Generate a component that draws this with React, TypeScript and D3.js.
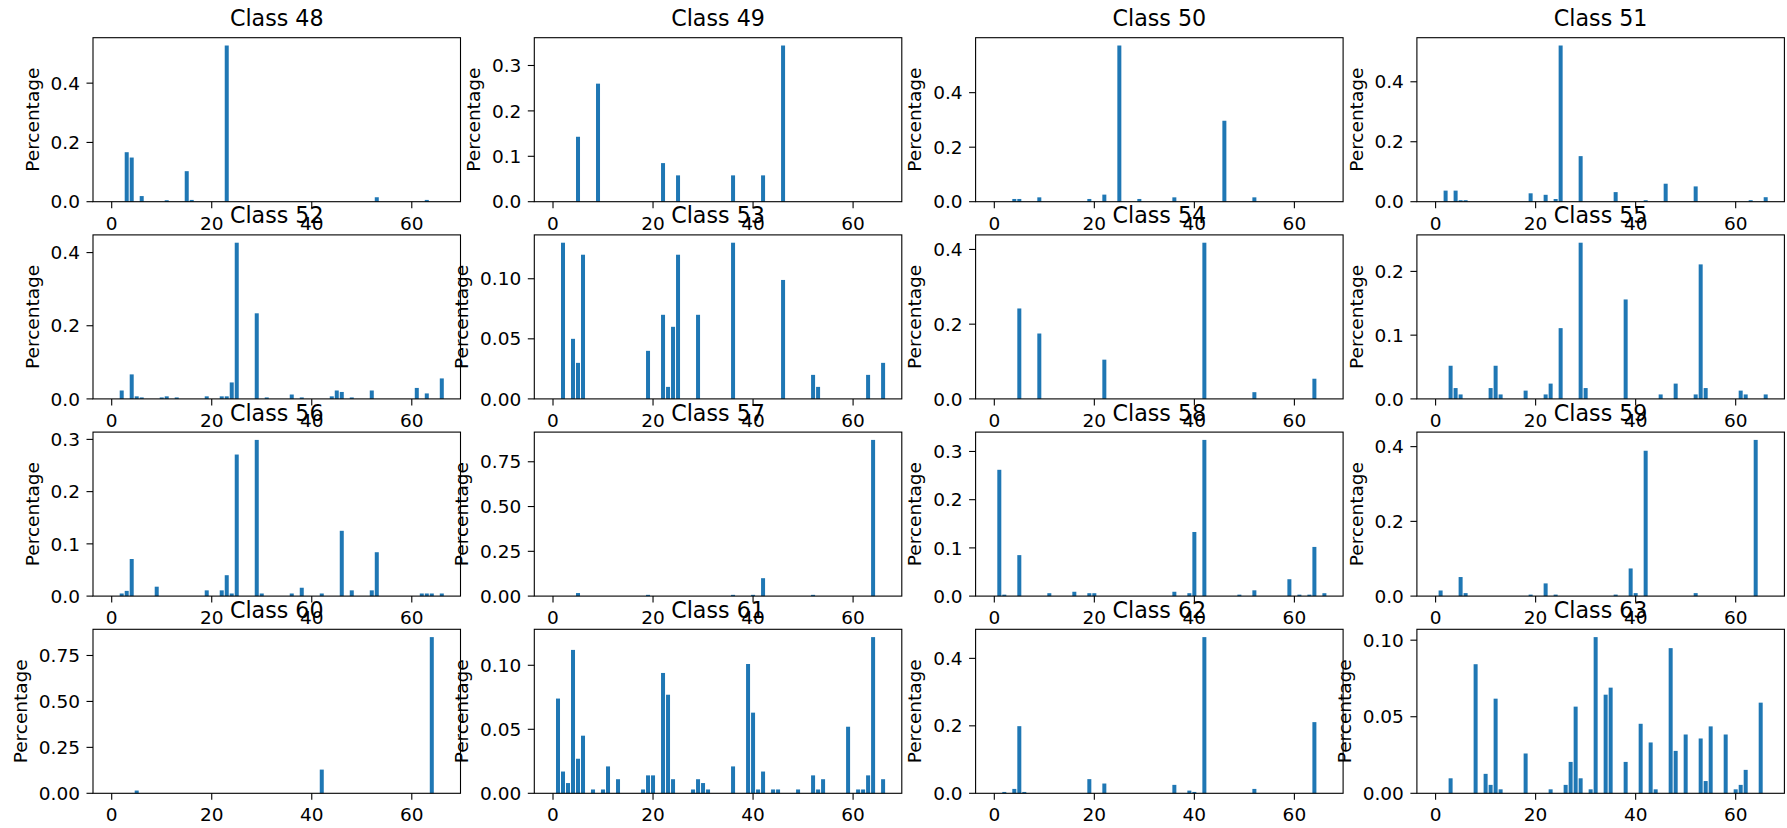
import React from "react";
import * as d3 from "d3";

const classNames = ["Class 48","Class 49","Class 50","Class 51","Class 52","Class 53","Class 54","Class 55","Class 56","Class 57","Class 58","Class 59","Class 60","Class 61","Class 62","Class 63"];

const class48 = [[3,0.167],[4,0.149],[6,0.019],[11,0.005],[15,0.103],[16,0.006],[23,0.527],[53,0.015],[63,0.006]];
const class49 = [[5,0.143],[9,0.26],[22,0.085],[25,0.058],[36,0.058],[42,0.058],[46,0.344]];
const class50 = [[4,0.01],[5,0.01],[9,0.016],[19,0.01],[22,0.026],[25,0.573],[29,0.01],[36,0.016],[46,0.297],[52,0.016]];
const class51 = [[2,0.037],[4,0.037],[5,0.005],[6,0.005],[19,0.028],[22,0.023],[24,0.009],[25,0.521],[29,0.152],[36,0.032],[42,0.005],[46,0.06],[52,0.051],[63,0.005],[66,0.015]];
const class52 = [[2,0.023],[4,0.067],[5,0.007],[6,0.004],[10,0.004],[11,0.007],[13,0.004],[19,0.007],[22,0.007],[23,0.007],[24,0.045],[25,0.427],[29,0.234],[31,0.004],[36,0.012],[38,0.004],[44,0.007],[45,0.023],[46,0.019],[48,0.004],[52,0.023],[61,0.03],[63,0.015],[66,0.056]];
const class53 = [[2,0.13],[4,0.05],[5,0.03],[6,0.12],[19,0.04],[22,0.07],[23,0.01],[24,0.06],[25,0.12],[29,0.07],[36,0.13],[46,0.099],[52,0.02],[53,0.01],[63,0.02],[66,0.03]];
const class54 = [[5,0.242],[9,0.175],[22,0.105],[42,0.418],[52,0.018],[64,0.054]];
const class55 = [[3,0.052],[4,0.017],[5,0.007],[11,0.017],[12,0.052],[13,0.007],[18,0.013],[22,0.007],[23,0.024],[25,0.111],[29,0.245],[30,0.017],[38,0.156],[45,0.007],[48,0.024],[52,0.007],[53,0.211],[54,0.017],[61,0.013],[62,0.007],[66,0.007]];
const class56 = [[2,0.005],[3,0.01],[4,0.071],[9,0.018],[19,0.011],[22,0.011],[23,0.04],[24,0.005],[25,0.271],[29,0.299],[30,0.005],[36,0.005],[38,0.016],[42,0.005],[46,0.125],[48,0.011],[52,0.011],[53,0.084],[62,0.005],[63,0.005],[64,0.005],[66,0.005]];
const class57 = [[5,0.017],[19,0.007],[36,0.007],[40,0.007],[42,0.1],[52,0.007],[64,0.872]];
const class58 = [[1,0.262],[2,0.003],[5,0.085],[11,0.006],[16,0.009],[19,0.006],[20,0.006],[36,0.009],[39,0.006],[40,0.133],[42,0.324],[49,0.003],[52,0.012],[59,0.035],[61,0.003],[63,0.003],[64,0.102],[66,0.006]];
const class59 = [[1,0.015],[5,0.051],[6,0.008],[19,0.004],[22,0.034],[24,0.004],[36,0.004],[39,0.074],[40,0.008],[42,0.389],[52,0.008],[64,0.418]];
const class60 = [[5,0.015],[42,0.129],[64,0.85]];
const class61 = [[1,0.074],[2,0.017],[3,0.008],[4,0.112],[5,0.027],[6,0.045],[8,0.003],[10,0.003],[11,0.021],[13,0.011],[18,0.003],[19,0.014],[20,0.014],[22,0.094],[23,0.077],[24,0.011],[28,0.003],[29,0.011],[30,0.008],[31,0.003],[36,0.021],[39,0.101],[40,0.063],[41,0.003],[42,0.017],[44,0.003],[45,0.003],[49,0.003],[52,0.014],[53,0.003],[54,0.011],[59,0.052],[61,0.003],[62,0.003],[63,0.014],[64,0.122],[66,0.011]];
const class62 = [[2,0.004],[4,0.013],[5,0.199],[6,0.004],[19,0.042],[22,0.029],[36,0.025],[39,0.008],[40,0.004],[42,0.463],[52,0.013],[64,0.211]];
const class63 = [[3,0.0098],[8,0.0843],[10,0.0127],[11,0.0055],[12,0.0618],[13,0.0026],[18,0.026],[23,0.0026],[26,0.0055],[27,0.0205],[28,0.0566],[29,0.0098],[31,0.0026],[32,0.102],[34,0.0644],[35,0.069],[38,0.0205],[41,0.0454],[43,0.0332],[44,0.0026],[47,0.0948],[48,0.0277],[50,0.0384],[53,0.0358],[54,0.008],[55,0.0437],[58,0.0384],[60,0.0026],[61,0.0055],[62,0.0153],[65,0.0592]];

const seriesList = [class48,class49,class50,class51,class52,class53,class54,class55,class56,class57,class58,class59,class60,class61,class62,class63];

const yTicks = [
  [0,0.2,0.4],[0,0.1,0.2,0.3],[0,0.2,0.4],[0,0.2,0.4],
  [0,0.2,0.4],[0,0.05,0.10],[0,0.2,0.4],[0,0.1,0.2],
  [0,0.1,0.2,0.3],[0,0.25,0.5,0.75],[0,0.1,0.2,0.3],[0,0.2,0.4],
  [0,0.25,0.5,0.75],[0,0.05,0.10],[0,0.2,0.4],[0,0.05,0.10]
];
const yDecimals = [1,1,1,1, 1,2,1,1, 1,2,1,1, 2,2,1,2];
const xTicks = [0,20,40,60];
const xDomain = [-3.74, 69.74];

const W = 1787, H = 828;
const LEFT0 = 93, COLSTEP = 441.3, AW = 367.5;
const TOP0 = 37.7, ROWSTEP = 197.2, AH = 164;
const FS = 18.5, TFS = 22.2;
const TICK = 6.5, PAD = 6.5, LABELPAD = 7.4;
const FONT = "DejaVu Sans";
const BAR = "#1f77b4";

function textWidth(s: string) {
  let w = 0;
  for (const c of s) w += c === "." ? 0.318 : 0.636;
  return w * FS;
}

function Panel({ idx }: { idx: number }) {
  const r = Math.floor(idx / 4), c = idx % 4;
  const left = LEFT0 + c * COLSTEP;
  const top = TOP0 + r * ROWSTEP;
  const data = seriesList[idx];
  const maxV = d3.max(data, (d) => d[1]) as number;
  const x = d3.scaleLinear().domain(xDomain).range([left, left + AW]);
  const y = d3.scaleLinear().domain([0, maxV * 1.05]).range([top + AH, top]);
  const bw = x(0.8) - x(0);
  const labels = yTicks[idx].map((t) => t.toFixed(yDecimals[idx]));
  const maxLW = d3.max(labels, (l) => textWidth(l)) as number;
  const ylabRight = left - TICK - PAD - maxLW - LABELPAD;
  const ylabX = ylabRight - 0.236 * FS;
  return (
    <g>
      {data.map((d, i) => (
        <rect key={i} x={x(d[0] - 0.4)} y={y(d[1])} width={bw} height={y(0) - y(d[1])} fill={BAR} />
      ))}
      <rect x={left} y={top} width={AW} height={AH} fill="none" stroke="#000" strokeWidth={1.1} />
      {xTicks.map((t) => (
        <g key={"x" + t}>
          <line x1={x(t)} x2={x(t)} y1={top + AH} y2={top + AH + TICK} stroke="#000" strokeWidth={1.1} />
          <text x={x(t)} y={top + AH + 28} textAnchor="middle" fontSize={FS} fontFamily={FONT} fill="#000">{t}</text>
        </g>
      ))}
      {yTicks[idx].map((t, i) => (
        <g key={"y" + i}>
          <line x1={left - TICK} x2={left} y1={y(t)} y2={y(t)} stroke="#000" strokeWidth={1.1} />
          <text x={left - TICK - PAD} y={y(t)} dy="0.36em" textAnchor="end" fontSize={FS} fontFamily={FONT} fill="#000">{labels[i]}</text>
        </g>
      ))}
      <text transform={`translate(${ylabX},${top + AH / 2}) rotate(-90)`} textAnchor="middle" fontSize={FS} fontFamily={FONT} fill="#000">Percentage</text>
    </g>
  );
}

function Title({ idx }: { idx: number }) {
  const r = Math.floor(idx / 4), c = idx % 4;
  const left = LEFT0 + c * COLSTEP;
  const top = TOP0 + r * ROWSTEP;
  return (
    <text x={left + AW / 2} y={top - 11.5} textAnchor="middle" fontSize={TFS} fontFamily={FONT} fill="#000">{classNames[idx]}</text>
  );
}

export default function App() {
  return (
    <svg width={W} height={H} style={{ position: "absolute", left: 0, top: 0, background: "#fff" }}>
      <rect width={W} height={H} fill="#fff" />
      {seriesList.map((_, i) => <Panel key={i} idx={i} />)}
      {seriesList.map((_, i) => <Title key={"t" + i} idx={i} />)}
    </svg>
  );
}
